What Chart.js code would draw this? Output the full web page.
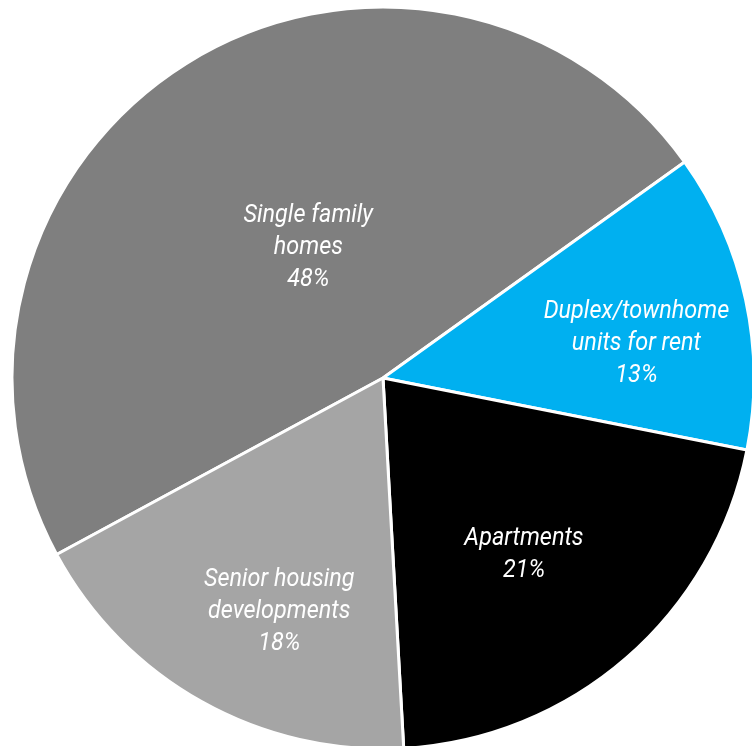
<!DOCTYPE html>
<html>
<head>
<meta charset="utf-8">
<script src="https://cdn.jsdelivr.net/npm/chart.js@4"></script>
<style>
  html, body { margin: 0; padding: 0; background: #fff; overflow: hidden; }
  #wrap { position: absolute; left: 0; top: 0; width: 766px; height: 756px; }
</style>
</head>
<body>
<div id="wrap"><canvas id="housing" width="766" height="756"></canvas></div>
<script>
// housing mix, percent of units
var categories = [['Single family', 'homes'], ['Duplex/townhome', 'units for rent'], ['Apartments'], ['Senior housing', 'developments']];
var shares = [48, 13, 21, 18];
var sliceColors = ['#7f7f7f', '#00b0f0', '#000000', '#a5a5a5'];

// where each label sits: fraction of radius, and degrees nudged off the slice middle
var labelRadius = [0.41, 0.69, 0.605, 0.685];
var labelTurn = [2.6, 4.1, 2.1, -5.1];

var sliceLabels = {
    id: 'sliceLabels',
    afterDatasetsDraw: function (chart) {
        var ctx = chart.ctx;
        var meta = chart.getDatasetMeta(0);
        ctx.save();
        ctx.fillStyle = '#ffffff';
        ctx.textAlign = 'center';
        ctx.textBaseline = 'middle';
        ctx.font = 'italic 26px Roboto';
        meta.data.forEach(function (arc, i) {
            var p = arc.getProps(['x', 'y', 'startAngle', 'endAngle', 'outerRadius'], true);
            var mid = (p.startAngle + p.endAngle) / 2 + labelTurn[i] * Math.PI / 180;
            var r = p.outerRadius * labelRadius[i];
            var cx = p.x + Math.cos(mid) * r;
            var cy = p.y + Math.sin(mid) * r + 2;
            var lines = categories[i].concat([shares[i] + '%']);
            var lh = 32;
            var top = cy - (lines.length - 1) * lh / 2;
            lines.forEach(function (t, k) {
                ctx.save();
                ctx.translate(cx, top + k * lh);
                ctx.scale(0.9, 1);
                ctx.fillText(t, 0, 0);
                ctx.restore();
            });
        });
        ctx.restore();
    }
};

var ctx = document.getElementById('housing').getContext('2d');
var housingChart = new Chart(ctx, {
    type: 'pie',
    data: {
        labels: categories.map(function (c) { return c.join(' '); }),
        datasets: [{
            data: shares,
            backgroundColor: sliceColors,
            borderColor: '#ffffff',
            borderWidth: 3,
            hoverOffset: 0
        }]
    },
    options: {
        responsive: false,
        animation: false,
        rotation: -118.4,
        layout: { padding: { top: 5.5, bottom: 5.5, left: 0, right: 0 } },
        plugins: {
            legend: { display: false },
            tooltip: { enabled: false }
        }
    },
    plugins: [sliceLabels]
});
</script>
</body>
</html>
